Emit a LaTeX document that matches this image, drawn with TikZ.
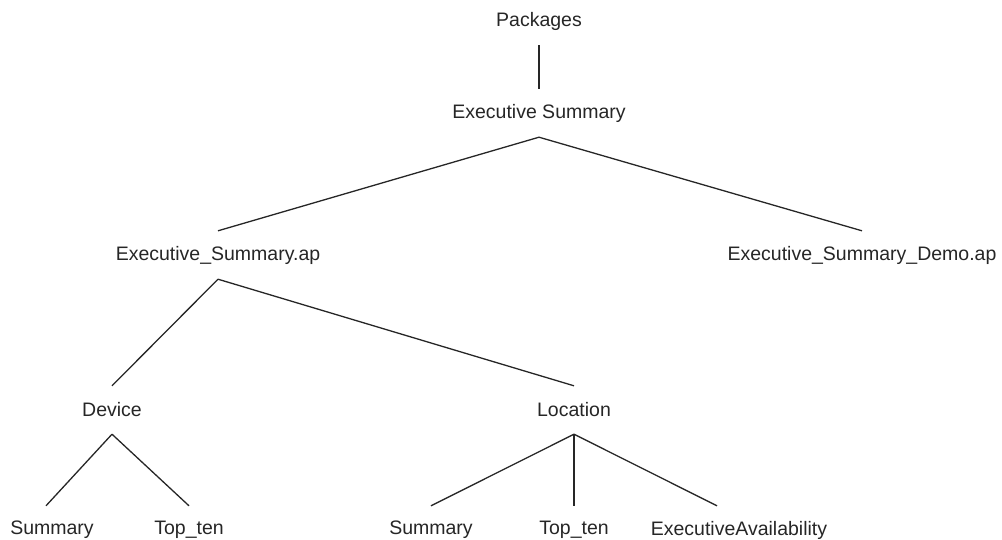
\documentclass[tikz,border=0pt]{standalone}
\usepackage{fontspec}
\setmainfont{Liberation Sans}
\usetikzlibrary{positioning}
\tikzstyle{item}=[inner sep=0pt,minimum height=48pt,font=\fontsize{19.5}{23}\selectfont,text=black!85]
\tikzstyle{branch}=[line width=1.3pt,draw=black!85]

\begin{document}
\begin{tikzpicture}[x=1pt,y=1pt,node distance=92pt,every node/.style=item]
    \useasboundingbox (0,0) rectangle (1002,-539);

    \node (pkg) at (539,-21)                                        {Packages};
    \node (exec) [below of=pkg]                                     {Executive Summary};
    \node (esap) [below of=exec,node distance=142pt,xshift=-321pt]  {Executive\_Summary.ap};
    \node (demo) [below of=exec,node distance=142pt,xshift=323pt]   {Executive\_Summary\_Demo.ap};
    \node (dev)  [below of=esap,node distance=155pt,xshift=-106pt]  {Device};
    \node (loc)  [below of=esap,node distance=155pt,xshift=356pt]   {Location};
    \node (sumA) [below of=dev,node distance=120pt,xshift=-60pt]    {Summary};
    \node (topA) [below of=dev,node distance=120pt,xshift=77pt]     {Top\_ten};
    \node (sumB) [below of=loc,node distance=120pt,xshift=-143pt]   {Summary};
    \node (topB) [below of=loc,node distance=120pt]                 {Top\_ten};
    \node (avail)[below of=loc,node distance=120pt,xshift=165pt]    {ExecutiveAvailability};

    \path[branch] (pkg.south) edge (exec.north);
    \path[branch] (exec.south) edge (esap.north)
                               edge (demo.north);
    \path[branch] (esap.south) edge (dev.north)
                               edge (loc.north);
    \path[branch] (dev.south) edge ([xshift=-6pt]sumA.north)
                              edge (topA.north);
    \path[branch] (loc.south) edge (sumB.north)
                              edge (topB.north)
                              edge ([xshift=-22pt]avail.north);

\end{tikzpicture}
\end{document}
